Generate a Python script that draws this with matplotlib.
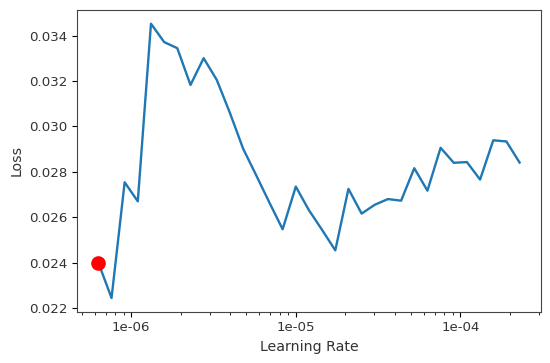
import matplotlib
matplotlib.use("Agg")
import matplotlib.pyplot as plt
import matplotlib.ticker as mticker

# learning rates
lrs = [6.31e-7, 7.59e-7, 9.12e-7, 1.096e-6, 1.318e-6, 1.585e-6, 1.905e-6,
       2.291e-6, 2.754e-6, 3.311e-6, 3.981e-6, 4.786e-6, 5.754e-6, 6.918e-6,
       8.318e-6, 1.0e-5, 1.202e-5, 1.445e-5, 1.738e-5, 2.089e-5, 2.512e-5,
       3.020e-5, 3.631e-5, 4.365e-5, 5.248e-5, 6.310e-5, 7.586e-5, 9.120e-5,
       1.096e-4, 1.318e-4, 1.585e-4, 1.905e-4, 2.291e-4]

losses = [0.02400, 0.02244, 0.02754, 0.02670, 0.03453, 0.03372, 0.03345,
          0.03183, 0.03301, 0.03205, 0.03059, 0.02902, 0.02784, 0.02664,
          0.02547, 0.02735, 0.02631, 0.02544, 0.02454, 0.02725, 0.02616,
          0.02655, 0.02680, 0.02673, 0.02816, 0.02717, 0.02906, 0.02840,
          0.02843, 0.02766, 0.02939, 0.02934, 0.02841]

# suggested point
sugg_idx = 0

plt.rcParams['font.size'] = 9.6
plt.rcParams['axes.labelsize'] = 10.2
plt.rcParams['text.color'] = '#333333'
plt.rcParams['axes.labelcolor'] = '#333333'
plt.rcParams['xtick.labelcolor'] = '#333333'
plt.rcParams['ytick.labelcolor'] = '#333333'
plt.rcParams['axes.edgecolor'] = '#444444'

fig = plt.figure(figsize=(5.5, 3.63), dpi=100)
ax = fig.add_axes([0.1405, 0.1413, 0.983 - 0.1405, 0.9725 - 0.1413])

ax.plot(lrs, losses, color='#1f77b4', linewidth=1.7)
ax.set_xscale('log')
ax.xaxis.set_major_formatter(mticker.FormatStrFormatter('%.0e'))
ax.plot(lrs[sugg_idx], losses[sugg_idx], 'o', color='red', markersize=9.5)

ax.set_xlabel('Learning Rate')
ax.set_ylabel('Loss')

fig.savefig('out.png', dpi=100)
